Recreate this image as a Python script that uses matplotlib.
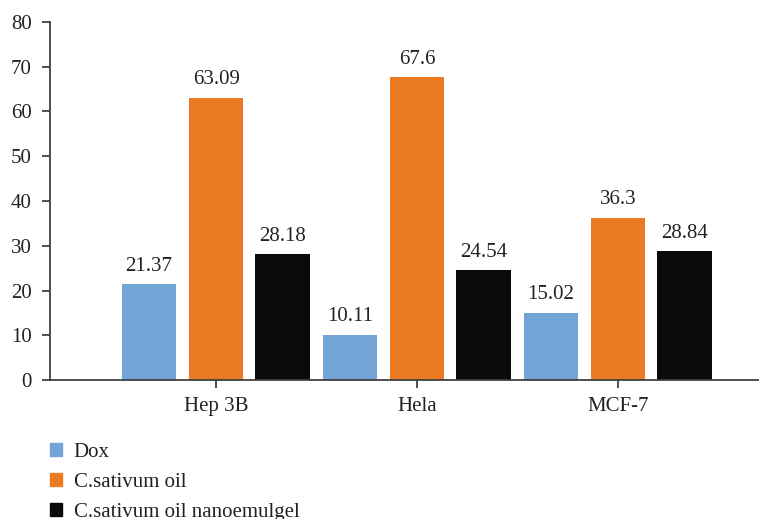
import matplotlib
matplotlib.use("Agg")
import matplotlib.pyplot as plt
import numpy as np
from matplotlib.patches import Patch

# data
cell_lines = ["Hep 3B", "Hela", "MCF-7"]
series_names = ["Dox", "C.sativum oil", "C.sativum oil nanoemulgel"]
dox = [21.37, 10.11, 15.02]
oil = [63.09, 67.6, 36.3]
nanogel = [28.18, 24.54, 28.84]
colors = ["#72a5d6", "#ec7a24", "#0a0a08"]

plt.rcParams["font.family"] = ["Liberation Serif", "DejaVu Serif"]
plt.rcParams["font.size"] = 15
text_col = "#222222"
axis_col = "#404040"

fig = plt.figure(figsize=(7.59, 5.19), dpi=100)
ax = fig.add_axes([50 / 759, 139 / 519, 1 - 50 / 759, 358 / 519])

x = np.arange(len(cell_lines))
width = 0.27
offsets = [-0.335, 0.0, 0.33]

for vals, off, c in zip([dox, oil, nanogel], offsets, colors):
    bars = ax.bar(x + off, vals, width, color=c)
    for b, v in zip(bars, vals):
        ax.annotate(f"{v:g}", (b.get_x() + b.get_width() / 2, v),
                    xytext=(0, 6), textcoords="offset points",
                    ha="center", va="bottom", color=text_col)

ax.set_xlim(-0.826, 2.70)
ax.set_ylim(0, 80)
ax.set_yticks(range(0, 81, 10))
ax.set_xticks(x)
ax.set_xticklabels(cell_lines)

for s in ["top", "right"]:
    ax.spines[s].set_visible(False)
for s in ["left", "bottom"]:
    ax.spines[s].set_color(axis_col)
    ax.spines[s].set_linewidth(1.3)
ax.tick_params(axis="both", colors=axis_col, labelcolor=text_col,
               length=6, width=1.3)
ax.tick_params(axis="y", pad=7)
ax.tick_params(axis="x", pad=6)

# legend stacked under the plot, last row runs to the bottom edge as in the source
handles = [Patch(color=c) for c in colors]
fig.legend(handles, series_names, loc="upper left",
           bbox_to_anchor=(50 / 759, (519 - 443) / 519),
           frameon=False, handlelength=0.58, handleheight=0.58,
           handletextpad=0.55, labelspacing=0.52, borderpad=0,
           borderaxespad=0, labelcolor=text_col)

fig.savefig("out.png", dpi=100, facecolor="white")
